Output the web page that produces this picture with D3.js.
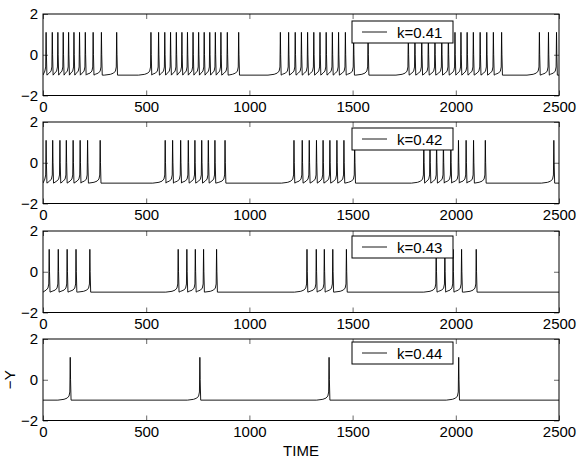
<!DOCTYPE html>
<html>
<head>
<meta charset="utf-8">
<script src="https://cdn.jsdelivr.net/npm/d3@7"></script>
<style>
  body { margin: 0; background: #fff; }
  svg { display: block; font-family: "Liberation Sans", Arial, Helvetica, sans-serif; }
  .tick text { font-size: 15px; fill: #000; font-family: "Liberation Sans", Arial, Helvetica, sans-serif; }
</style>
</head>
<body>
<div id="chart"></div>
<script>
// data
const timeTicks = [0, 500, 1000, 1500, 2000, 2500];
const yTicks = [-2, 0, 2];
const kLabels = ["k=0.41", "k=0.42", "k=0.43", "k=0.44"];

// spike times (TIME units) for each k
const spikes041 = [15, 45, 72, 98, 124, 150, 177, 205, 243, 283, 357,
  523, 560, 590, 618, 646, 673, 700, 727, 754, 781, 808, 835, 862, 893, 948,
  1150, 1190, 1222, 1252, 1282, 1312, 1342, 1372, 1402, 1432, 1465, 1505, 1575,
  1770, 1802, 1835, 1867, 1899, 1932, 1964, 1996, 2025, 2055, 2085, 2118, 2150, 2182, 2222,
  2405, 2449, 2488];
const spikes042 = [15, 47, 82, 113, 146, 180, 216, 277,
  592, 628, 667, 704, 736, 769, 801, 833, 882,
  1216, 1256, 1290, 1325, 1357, 1390, 1424, 1458, 1510,
  1845, 1875, 1907, 1940, 1976, 2013, 2050, 2086, 2143,
  2475];
const spikes043 = [30, 74, 117, 160, 227,
  655, 697, 738, 778, 841,
  1279, 1324, 1363, 1404, 1470,
  1905, 1947, 1987, 2028, 2099];
const spikes044 = [132, 760, 1386, 2014];

// one spike waveform: time offsets from the peak and -Y levels
const shapeOffsets = [-60, -30, -15, -6, -2, 0, 1.5, 4];
const shapeLevels = [-1.0, -0.96, -0.9, -0.8, -0.6, 1.1, 0.0, -1.0];
const restLevel = -1.0;

const allSpikes = [spikes041, spikes042, spikes043, spikes044];

// layout
const W = 581, H = 461;
const plotLeft = 43, plotRight = 559;
const panelTops = [14, 122, 231, 339];
const panelH = 81.5;
const legendDy = [7, 6, 5, 3];

const svg = d3.select("#chart").append("svg")
  .attr("width", W).attr("height", H);

const x = d3.scaleLinear().domain([0, 2500]).range([plotLeft, plotRight]);

// build the trace points from spike times
function buildTrace(spikes) {
  const pts = [[0, restLevel]];
  let lastEnd = 0;
  spikes.forEach(s => {
    shapeOffsets.forEach((o, j) => {
      const t = s + o;
      if (t > lastEnd + 1) pts.push([t, shapeLevels[j]]);
    });
    lastEnd = s + shapeOffsets[shapeOffsets.length - 1];
  });
  pts.push([2500, restLevel]);
  return pts;
}

allSpikes.forEach((spikes, i) => {
  const top = panelTops[i];
  const y = d3.scaleLinear().domain([-2, 2]).range([top + panelH, top]);
  const g = svg.append("g");

  g.append("clipPath").attr("id", "clip" + i)
    .append("rect")
    .attr("x", plotLeft).attr("y", top)
    .attr("width", plotRight - plotLeft).attr("height", panelH);

  // trace
  const line = d3.line().x(d => x(d[0])).y(d => y(d[1]));
  g.append("path")
    .datum(buildTrace(spikes))
    .attr("clip-path", `url(#clip${i})`)
    .attr("fill", "none")
    .attr("stroke", "#000")
    .attr("stroke-width", 0.9)
    .attr("d", line);

  // axes with inward ticks
  g.append("g").attr("transform", `translate(0,${top + panelH})`)
    .call(d3.axisBottom(x).tickValues(timeTicks).tickFormat(d3.format("d"))
      .tickSizeInner(-5).tickSizeOuter(0).tickPadding(6))
    .call(a => a.select(".domain").remove());
  g.append("g").attr("transform", `translate(0,${top})`)
    .call(d3.axisTop(x).tickValues(timeTicks).tickSizeInner(-5).tickSizeOuter(0).tickFormat(""))
    .call(a => a.select(".domain").remove());
  g.append("g").attr("transform", `translate(${plotLeft},0)`)
    .call(d3.axisLeft(y).tickValues(yTicks).tickFormat(d3.format("d"))
      .tickSizeInner(-5).tickSizeOuter(0).tickPadding(5))
    .call(a => a.select(".domain").remove());
  g.append("g").attr("transform", `translate(${plotRight},0)`)
    .call(d3.axisRight(y).tickValues(yTicks).tickSizeInner(-5).tickSizeOuter(0).tickFormat(""))
    .call(a => a.select(".domain").remove());
  g.selectAll(".tick line").attr("stroke", "#000").attr("stroke-width", 0.6);

  // frame
  g.append("rect")
    .attr("x", plotLeft).attr("y", top)
    .attr("width", plotRight - plotLeft).attr("height", panelH)
    .attr("fill", "none").attr("stroke", "#000").attr("stroke-width", 1);

  // legend
  const ly = top + legendDy[i];
  const lg = g.append("g").attr("transform", `translate(352,${ly})`);
  lg.append("rect").attr("width", 101).attr("height", 22)
    .attr("fill", "#fff").attr("stroke", "#000").attr("stroke-width", 1);
  lg.append("line").attr("x1", 10).attr("x2", 35).attr("y1", 11).attr("y2", 11)
    .attr("stroke", "#000").attr("stroke-width", 0.9);
  lg.append("text").attr("x", 45).attr("y", 16.5)
    .attr("font-size", 15).text(kLabels[i]);
});

// axis titles
svg.append("text")
  .attr("x", (plotLeft + plotRight) / 2).attr("y", 456)
  .attr("text-anchor", "middle").attr("font-size", 15)
  .text("TIME");
svg.append("text")
  .attr("transform", `translate(15,${panelTops[3] + panelH / 2}) rotate(-90)`)
  .attr("text-anchor", "middle").attr("font-size", 15)
  .text("−Y");
</script>
</body>
</html>
